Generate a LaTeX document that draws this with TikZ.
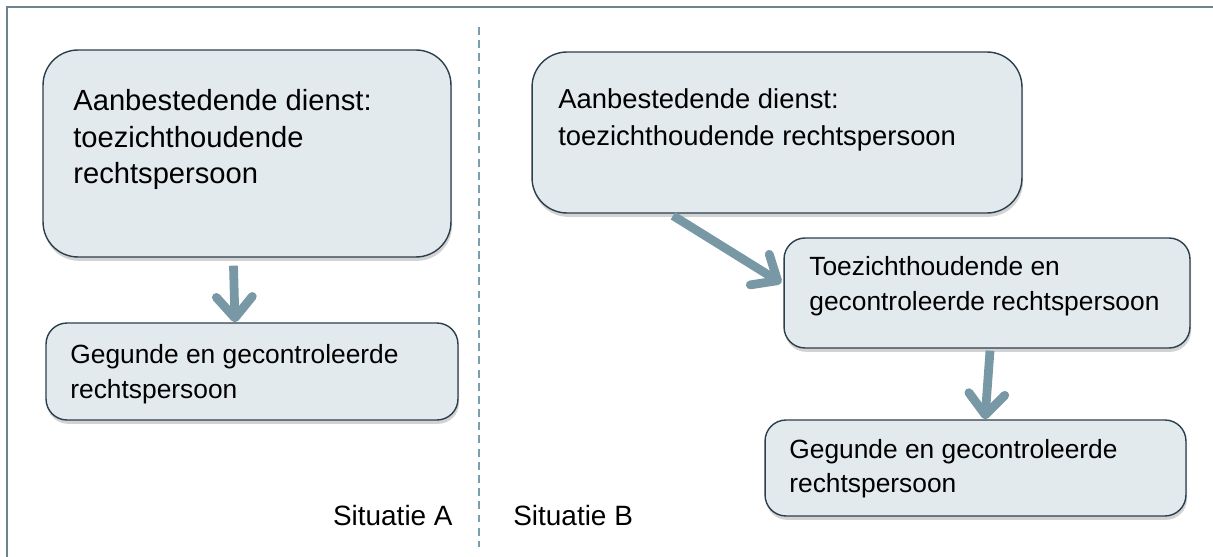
\documentclass[tikz,border=0pt]{standalone}
\usepackage{fontspec}
\setmainfont{Liberation Sans}
\usetikzlibrary{arrows.meta,shadows}

\definecolor{boxfill}{HTML}{E3EAED}
\definecolor{boxline}{HTML}{2B3F4C}
\definecolor{arrowcol}{HTML}{7798A4}
\definecolor{framecol}{HTML}{6D8490}
\definecolor{sepcol}{HTML}{7C9FB0}

\tikzset{
	entity/.style={draw=boxline,fill=boxfill,line width=0.8pt,
		drop shadow={shadow xshift=0.6pt,shadow yshift=-2.2pt,opacity=0.35}},
	bigentity/.style={entity,rounded corners=0.7cm},
	smallentity/.style={entity,rounded corners=0.42cm},
	entitytext/.style={anchor=north west,inner sep=0pt,align=left},
	relation/.style={draw=arrowcol,line width=5pt,
		-{Straight Barb[length=0.42cm,width=0.72cm,round]}}
}

\begin{document}
\begin{tikzpicture}[x=0.02cm,y=-0.02cm]
	\useasboundingbox (0,0) rectangle (1213,557);
	% frame and separator
	\draw[framecol,line width=1pt] (1213,7) -- (7,7) -- (7,557);
	\draw[sepcol,line width=1.1pt,dash pattern=on 4.5pt off 3pt] (479,27) -- (479,547);

	% situatie A
	\node[bigentity,minimum width=8.16cm,minimum height=4.14cm] (dienst-a) at (247,153.5) {};
	\node[entitytext,font=\fontsize{16.6}{20.8}\selectfont] (dienst-a-text) at (73,89) {Aanbestedende dienst:\\toezichthoudende\\rechtspersoon};
	\node[smallentity,minimum width=8.24cm,minimum height=1.94cm] (gegund-a) at (252,371.5) {};
	\node[entitytext,font=\fontsize{15}{19.9}\selectfont] (gegund-a-text) at (70,344) {Gegunde en gecontroleerde\\rechtspersoon};

	% situatie B
	\node[bigentity,minimum width=9.8cm,minimum height=3.22cm] (dienst-b) at (777,132.5) {};
	\node[entitytext,font=\fontsize{15.6}{21.3}\selectfont] (dienst-b-text) at (558,88) {Aanbestedende dienst:\\toezichthoudende rechtspersoon};
	\node[smallentity,minimum width=8.12cm,minimum height=2.2cm] (toezicht-b) at (987,293) {};
	\node[entitytext,font=\fontsize{15}{20.2}\selectfont] (toezicht-b-text) at (809,256) {Toezichthoudende en\\gecontroleerde rechtspersoon};
	\node[smallentity,minimum width=8.42cm,minimum height=1.92cm] (gegund-b) at (975.5,468) {};
	\node[entitytext,font=\fontsize{15}{19.6}\selectfont] (gegund-b-text) at (789,439) {Gegunde en gecontroleerde\\rechtspersoon};

	\node[anchor=base east,inner sep=0pt,font=\fontsize{15.9}{19}\selectfont] (sit-a) at (453,525) {Situatie A};
	\node[anchor=base west,inner sep=0pt,font=\fontsize{15.9}{19}\selectfont] (sit-b) at (513,525) {Situatie B};

	\draw[relation] ([xshift=-0.27cm,yshift=-0.16cm]dienst-a.south) -- ([xshift=-0.34cm]gegund-a.north);
	\draw[relation] ([xshift=-2.08cm,yshift=-0.04cm]dienst-b.south) -- ([xshift=-0.04cm,yshift=0.2cm]toezicht-b.west);
	\draw[relation] ([xshift=0.06cm,yshift=-0.04cm]toezicht-b.south) -- ([xshift=0.19cm]gegund-b.north);
\end{tikzpicture}
\end{document}
